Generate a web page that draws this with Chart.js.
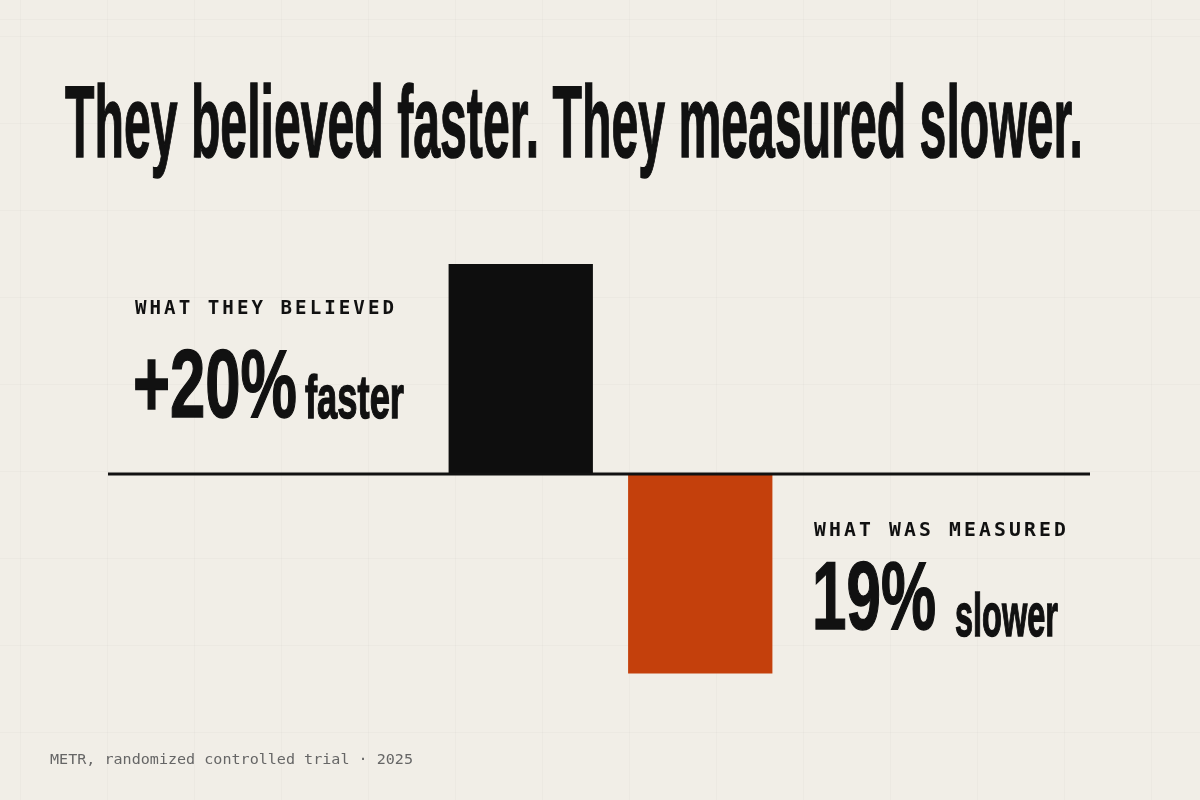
<!DOCTYPE html>
<html><head><meta charset="utf-8">
<script src="https://cdn.jsdelivr.net/npm/chart.js@4"></script>
<style>
html,body{margin:0;padding:0;width:1200px;height:800px;overflow:hidden;background:#f1eee7;}
#wrap{position:relative;width:1200px;height:800px;
background-image:repeating-linear-gradient(90deg,rgba(0,0,0,0.02) 0 1px,transparent 1px 87px),repeating-linear-gradient(0deg,rgba(0,0,0,0.02) 0 1px,transparent 1px 87px);
background-position:20px 20px;}
canvas{position:absolute;left:0;top:0;}
.t{position:absolute;white-space:nowrap;transform-origin:0 0;color:#111;}
.cond{font-family:"Liberation Sans Narrow","Liberation Sans",sans-serif;font-weight:bold;-webkit-text-stroke:1.5px #111;}
.mono{font-family:"DejaVu Sans Mono",monospace;}
</style></head><body>
<div id="wrap">
<canvas id="c" width="1200" height="800"></canvas>
<div class="t cond" id="title" data-w="1018" style="left:65px;top:72px;font-size:102px;line-height:100px;">They believed faster. They measured slower.</div>
<div class="t mono" id="l1" data-w="262" style="left:135px;top:296px;font-size:19px;letter-spacing:3px;font-weight:bold;">WHAT THEY BELIEVED</div>
<div class="t cond" id="v1" data-w="164" style="left:133px;top:334px;font-size:96px;line-height:100px;">+20%</div>
<div class="t cond" id="u1" data-w="99" style="left:305px;top:362px;font-size:62px;line-height:70px;">faster</div>
<div class="t mono" id="l2" data-w="255" style="left:814px;top:518px;font-size:19px;letter-spacing:3px;font-weight:bold;">WHAT WAS MEASURED</div>
<div class="t cond" id="v2" data-w="124" style="left:812px;top:546px;font-size:96px;line-height:100px;">19%</div>
<div class="t cond" id="u2" data-w="103" style="left:955px;top:580px;font-size:62px;line-height:70px;">slower</div>
<div class="t mono" data-w="363" style="left:50px;top:751px;font-size:14px;color:#666;">METR, randomized controlled trial · 2025</div>
</div>
<script>
const categories = ["What they believed", "What was measured"];
const values = [20, -19];
const barColors = ["#0e0e0e", "#c4400c"];

document.querySelectorAll('[data-w]').forEach(el=>{
  const w=el.getBoundingClientRect().width;
  el.style.transform='scaleX('+(parseFloat(el.dataset.w)/w)+')';
});

const baseline={id:'baseline',afterDatasetsDraw(ch){
  const y=ch.scales.y.getPixelForValue(0);const c=ch.ctx;
  c.save();c.strokeStyle='#111';c.lineWidth=3;c.beginPath();c.moveTo(108,y);c.lineTo(1090,y);c.stroke();c.restore();}};

new Chart(document.getElementById('c'),{
  type:'bar',
  data:{labels:categories,datasets:[{data:values,backgroundColor:barColors,barPercentage:0.804,categoryPercentage:1,borderWidth:0}]},
  options:{responsive:false,animation:false,
    layout:{padding:{left:431,right:410,top:264,bottom:116}},
    plugins:{legend:{display:false},tooltip:{enabled:false}},
    scales:{x:{display:false},y:{display:false,min:-20,max:20}}},
  plugins:[baseline]
});
</script>
</body></html>
